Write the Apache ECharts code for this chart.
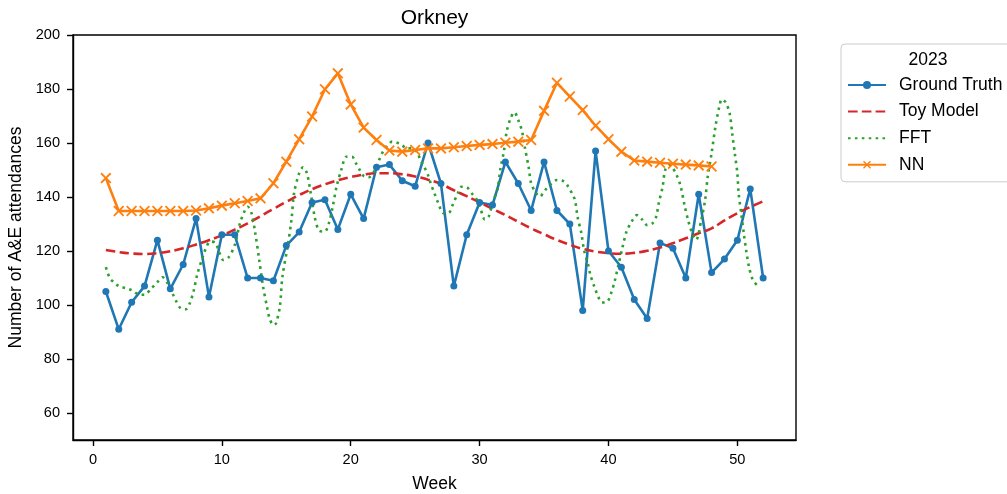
<!DOCTYPE html>
<html>
<head>
<meta charset="utf-8">
<script src="https://cdn.jsdelivr.net/npm/echarts@6/dist/echarts.min.js"></script>
<style>
  html, body { margin: 0; padding: 0; background: #fff; }
  #chart { width: 1007px; height: 494px; }
</style>
</head>
<body>
<div id="chart"></div>
<script>
// Weekly A&E attendances, Orkney 2023, with three model fits
const weeks = [1,2,3,4,5,6,7,8,9,10,11,12,13,14,15,16,17,18,19,20,21,22,23,24,25,26,
               27,28,29,30,31,32,33,34,35,36,37,38,39,40,41,42,43,44,45,46,47,48,49,50,51,52];

const groundTruth = [105,91,101,107,124,106,115,132,103,126,126,110,110,109,122,127,138,139,128,141,
                     132,151,152,146,144,160,145,107,126,138,137,153,145,135,153,135,130,98,157,120,
                     114,102,95,123,121,110,141,112,117,124,143,110];

const toyModel = [120.4,119.6,119.1,118.9,119.2,119.9,121.0,122.4,124.0,125.8,127.9,130.2,132.9,135.6,
                  138.2,140.7,142.9,144.7,146.2,147.4,148.3,148.8,148.8,148.4,147.6,146.4,144.8,142.5,
                  140.3,138.0,135.6,133.3,130.8,128.4,126.2,124.1,122.3,120.8,119.8,119.2,119.0,119.3,
                  120.1,121.3,122.9,124.7,126.6,128.4,131.3,134.0,136.3,138.4];

const nnWeeks = weeks.slice(0, 48);
const nnValues = [147,134.8,134.8,134.8,134.8,134.8,134.8,135.0,135.8,136.8,
                  137.7,138.5,139.5,145.1,153.1,161.4,169.8,179.9,185.8,174.3,
                  165.7,161.1,157.2,156.8,157.4,158.0,158.0,158.4,158.9,159.3,
                  159.6,160.1,160.5,161.1,171.9,182.3,177.2,172.2,166.4,161.4,
                  156.8,153.5,153.1,152.7,152.3,152.0,151.7,151.3];

const fftWeeks = [1,1.3,1.6,2,2.5,3,3.5,4,4.5,5,5.4,5.8,6.2,6.5,6.8,7.2,7.5,7.8,8.1,8.5,8.8,9.1,9.5,9.8,
                  10.1,10.5,11,11.4,11.8,12,12.3,12.6,12.9,13.2,13.5,13.7,14,14.2,14.5,14.7,15.1,15.4,15.6,
                  16,16.3,16.6,16.9,17.2,17.5,17.8,18,18.3,18.6,18.9,19.3,19.65,20.1,20.4,20.7,21,21.4,21.8,
                  22.2,22.5,22.9,23.2,23.6,24,24.3,24.8,25.2,25.4,25.7,26,26.2,26.5,26.8,27.2,27.6,27.9,
                  28.3,28.6,29,29.4,29.8,30.1,30.4,30.7,31,31.4,31.6,31.9,32.1,32.4,32.7,33,33.3,33.5,33.8,
                  34,34.4,34.7,34.9,35.2,35.6,36,36.4,36.8,37.2,37.4,37.6,37.9,38.1,38.4,38.6,38.9,39.2,39.5,
                  39.9,40.2,40.5,40.8,41.1,41.4,41.8,42.2,42.6,43,43.4,43.7,43.9,44.2,44.4,44.7,45,45.3,45.6,
                  45.9,46.2,46.5,46.8,47.2,47.5,47.7,48,48.3,48.6,48.8,49.1,49.4,49.6,49.8,50,50.1,50.3,50.5,
                  50.7,50.9,51.2,51.6];
const fftValues = [114,110,108.5,107,106.3,105.5,104,103.8,106,108.5,110.3,108,104,101,98.8,98.4,100.5,105,111.5,117.5,121.5,123.5,123,119.5,
                   116.7,117.5,122.2,130.2,135.2,136.4,134,126.5,116.7,106.8,99.4,95.1,92.6,93.2,99.4,110.5,121.6,131.5,141.3,
                   148.8,151,148.8,141.3,132.7,127.8,127.2,127.2,130.2,136.4,143.8,150.6,154.9,154.9,152.5,150,147.8,147.3,149.4,
                   153.7,156.8,159.2,160.5,160.1,159.2,158,158,156.2,153.7,151.2,148.1,145.1,141.3,137.7,134,134.1,137,
                   141.3,143.8,143.6,141.3,138.9,135.2,131.7,132.7,137.7,143.2,150,157.4,164.2,169.1,171.4,168.5,164.2,158.6,151.2,
                   145.1,141.3,140.1,141.3,143.2,145.1,146.3,146.1,144.4,141,138.9,132.7,126.5,120.4,115.4,111.1,106.8,103.1,100.9,
                   101.2,104.3,109.2,115.4,121.6,127.2,130.9,133.3,131.7,129.6,130.2,132.7,137.7,143.8,150,151.9,150.6,148,144,
                   137,131,126.5,124.1,131.5,138.9,147.5,156.2,166.1,173.5,176.2,175,171,163.6,156.2,148.8,141.3,134,126.5,
                   119.7,114.2,109.3,107];

const yTicks = [60,80,100,120,140,160,180,200];
const xTicks = [0,10,20,30,40,50];

const pairs = (xs, ys) => xs.map((x, i) => [x, ys[i]]);

const FONT = 'Liberation Sans, Arial, Helvetica, sans-serif';
const C_BLUE = '#1f77b4', C_ORANGE = '#ff7f0e', C_GREEN = '#2ca02c', C_RED = '#d62728';
const LW = 2.6;
// filled cross used as the "x" marker
const CROSS = 'path://M0,1.18L1.18,0L5,3.82L8.82,0L10,1.18L6.18,5L10,8.82L8.82,10L5,6.18L1.18,10L0,8.82L3.82,5Z';

const axisLine = { show: true, onZero: false, lineStyle: { color: '#000', width: 1.4 } };
const axisTick = (vals) => ({ show: true, length: 6, lineStyle: { color: '#000', width: 1.4 }, customValues: vals });

const chart = echarts.init(document.getElementById('chart'), null, { renderer: 'canvas' });

chart.setOption({
  animation: false,
  backgroundColor: '#ffffff',
  title: [
    {
      text: 'Orkney',
      left: 434.5, top: 8, textAlign: 'center', padding: 0,
      textStyle: { fontFamily: FONT, fontSize: 21, fontWeight: 'normal', color: '#000' }
    },
    {
      text: '2023',
      left: 928, top: 51, textAlign: 'center', padding: 0,
      textStyle: { fontFamily: FONT, fontSize: 17.5, fontWeight: 'normal', color: '#000' }
    }
  ],
  legend: {
    data: [
      { name: 'Ground Truth' },
      { name: 'Toy Model', itemStyle: { opacity: 0 } },
      { name: 'FFT', itemStyle: { opacity: 0 } },
      { name: 'NN' }
    ],
    orient: 'vertical',
    left: 841, top: 44,
    padding: [32, 10, 8, 6],
    backgroundColor: 'rgba(255,255,255,0.8)',
    borderColor: '#cccccc', borderWidth: 1, borderRadius: 4,
    itemWidth: 38, itemHeight: 10, itemGap: 8.6,
    selectedMode: false,
    textStyle: { fontFamily: FONT, fontSize: 17.5, color: '#000', lineHeight: 18, padding: [0, 0, 0, 8] }
  },
  grid: {
    left: 73, top: 35, right: 211, bottom: 54,
    outerBoundsMode: 'none', containLabel: false,
    show: true, borderColor: '#000', borderWidth: 1.4, backgroundColor: 'transparent'
  },
  xAxis: {
    type: 'value', min: -1.55, max: 54.55,
    name: 'Week', nameLocation: 'middle', nameGap: 35,
    nameTextStyle: { fontFamily: FONT, fontSize: 17.5, color: '#000' },
    axisLine: axisLine,
    splitLine: { show: false },
    axisTick: axisTick(xTicks),
    axisLabel: { margin: 12, fontFamily: FONT, fontSize: 14.6, color: '#000', customValues: xTicks }
  },
  yAxis: {
    type: 'value', min: 50, max: 200,
    name: 'Number of A&E attendances', nameLocation: 'middle', nameGap: 45, nameRotate: 90,
    nameTextStyle: { fontFamily: FONT, fontSize: 17.5, color: '#000' },
    axisLine: axisLine,
    splitLine: { show: false },
    axisTick: axisTick(yTicks),
    axisLabel: { margin: 13, fontFamily: FONT, fontSize: 14.6, color: '#000', customValues: yTicks }
  },
  series: [
    {
      name: 'Ground Truth', type: 'line',
      data: pairs(weeks, groundTruth),
      symbol: 'circle', symbolSize: 7, showSymbol: true,
      lineStyle: { color: C_BLUE, width: LW },
      itemStyle: { color: C_BLUE }
    },
    {
      name: 'Toy Model', type: 'line',
      data: pairs(weeks, toyModel),
      smooth: true, symbol: 'none',
      lineStyle: { color: C_RED, width: LW, type: [9.6, 4.2] },
      itemStyle: { color: C_RED }
    },
    {
      name: 'FFT', type: 'line',
      data: pairs(fftWeeks, fftValues),
      smooth: 0.3, symbol: 'none',
      lineStyle: { color: C_GREEN, width: LW, type: [2.6, 4.3] },
      itemStyle: { color: C_GREEN }
    },
    {
      name: 'NN', type: 'line',
      data: pairs(nnWeeks, nnValues),
      symbol: CROSS, symbolSize: 11,
      lineStyle: { color: C_ORANGE, width: LW },
      itemStyle: { color: C_ORANGE }
    }
  ]
});
</script>
</body>
</html>
